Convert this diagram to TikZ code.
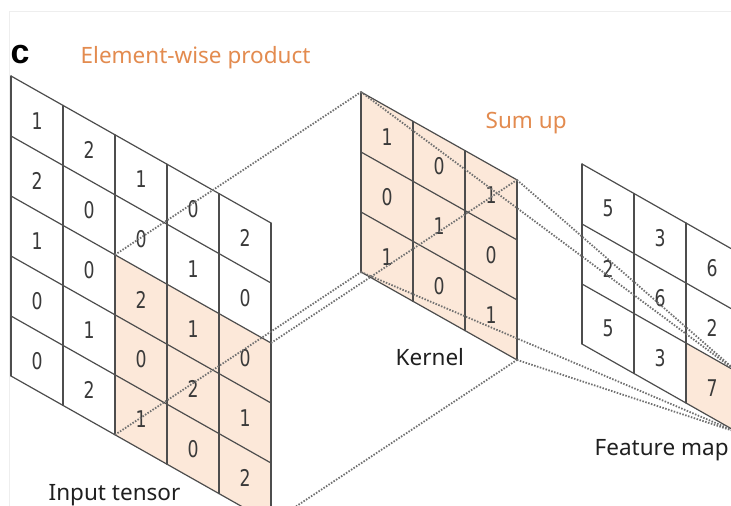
\documentclass[tikz,border=0pt]{standalone}
\usepackage{graphicx}
\usepackage{fontspec}
\setmainfont{Noto Sans}
\newfontfamily\digitfont{DejaVu Sans}
\newfontfamily\panelfont{Liberation Sans}
\definecolor{peach}{HTML}{FCE8D9}
\definecolor{labelorange}{HTML}{E38B4F}
\definecolor{gridgray}{HTML}{4D4D4D}
\definecolor{dotgray}{HTML}{707070}
\definecolor{numgray}{HTML}{3A3A3A}
\definecolor{framegray}{HTML}{EEEEEE}
\begin{document}
\begin{tikzpicture}[x=1pt,y=-1pt,
  gridline/.style={draw=gridgray, line width=1.2pt, line cap=round},
  cellshade/.style={fill=peach},
  conn/.style={draw=dotgray, line width=1.8pt, dash pattern=on 1.5pt off 1.5pt},
  num/.style={font=\digitfont\fontsize{23}{23}\selectfont, text=numgray, inner sep=0pt},
  caption/.style={font=\fontsize{22.5}{22.5}\selectfont, text=black!88, inner sep=0pt, anchor=base west},
  orangecaption/.style={caption, text=labelorange}]
\useasboundingbox (0,0) rectangle (731,506);
\clip (0,0) rectangle (731,506);
\fill[white] (0,0) rectangle (731,506);
\draw[framegray, line width=1pt] (9,506) -- (9,11) -- (731,11);

% ---------- Input tensor ----------
\begin{scope}[shift={(11pt,-76pt)}, x={(52pt,-29.4pt)}, y={(0pt,-60pt)}]
  \fill[cellshade] (2,2) -- (5,2) -- (5,5) -- (2,5) -- cycle;
  \foreach \i in {0,...,5} \draw[gridline] (\i,0) -- (\i,5);
  \foreach \j in {0,...,5} \draw[gridline] (0,\j) -- (5,\j);
  \foreach \col [count=\i from 0] in {{1,2,1,0,0},{2,0,0,1,2},{1,0,2,0,1},{0,1,1,2,0},{2,0,0,1,2}}
    \foreach \v [count=\j from 0] in \col
      \node[num] (in-\i-\j) at (\i+0.5,\j+0.5) {\scalebox{0.75}[1]{\v}};
  \coordinate (inTL) at (2,2);
  \coordinate (inTR) at (5,2);
  \coordinate (inBL) at (2,5);
  \coordinate (inBR) at (5,5);
\end{scope}

% ---------- Kernel ----------
\begin{scope}[shift={(361pt,-92pt)}, x={(52pt,-29.3pt)}, y={(0pt,-60pt)}]
  \fill[cellshade] (0,0) -- (3,0) -- (3,3) -- (0,3) -- cycle;
  \foreach \i in {0,...,3} \draw[gridline] (\i,0) -- (\i,3);
  \foreach \j in {0,...,3} \draw[gridline] (0,\j) -- (3,\j);
  \foreach \col [count=\i from 0] in {{1,0,1},{0,1,0},{1,0,1}}
    \foreach \v [count=\j from 0] in \col
      \node[num] (k-\i-\j) at (\i+0.5,\j+0.5) {\scalebox{0.75}[1]{\v}};
  \coordinate (kTL) at (0,0);
  \coordinate (kTR) at (3,0);
  \coordinate (kBL) at (0,3);
  \coordinate (kBR) at (3,3);
\end{scope}

% ---------- Feature map ----------
\begin{scope}[shift={(582pt,-164pt)}, x={(52pt,-29.5pt)}, y={(0pt,-60pt)}]
  \fill[cellshade] (2,2) -- (3,2) -- (3,3) -- (2,3) -- cycle;
  \foreach \i in {0,...,3} \draw[gridline] (\i,0) -- (\i,3);
  \foreach \j in {0,...,3} \draw[gridline] (0,\j) -- (3,\j);
  \foreach \col [count=\i from 0] in {{5,2,5},{3,6,3},{6,2,7}}
    \foreach \v [count=\j from 0] in \col
      \node[num] (fm-\i-\j) at (\i+0.5,\j+0.5) {\scalebox{0.75}[1]{\v}};
  \coordinate (fmTR) at (3,2);
  \coordinate (fmBR) at (3,3);
\end{scope}

% ---------- Dotted connectors ----------
\draw[conn] (inTL) -- (kTL);
\draw[conn] (inTR) -- (kTR);
\draw[conn] (inBL) -- (kBL);
\draw[conn] (inBR) -- (kBR);
\draw[conn] (kTL) -- (fmTR);
\draw[conn] (kTR) -- (fmTR);
\draw[conn] (kBL) -- (fmBR);
\draw[conn] (kBR) -- (fmBR);

% ---------- Labels ----------
\node[caption, text=black, font=\panelfont\bfseries\fontsize{34}{34}\selectfont] (panel) at (10.5,63) {c};
\node[orangecaption] (ewp) at (80.5,63) {Element-wise product};
\node[orangecaption] (sumup) at (485.5,128) {Sum up};
\node[caption] (kernel) at (395.5,365) {Kernel};
\node[caption] (fmap) at (594.5,455) {Feature map};
\node[caption] (input) at (48.5,500) {Input tensor};
\end{tikzpicture}
\end{document}
